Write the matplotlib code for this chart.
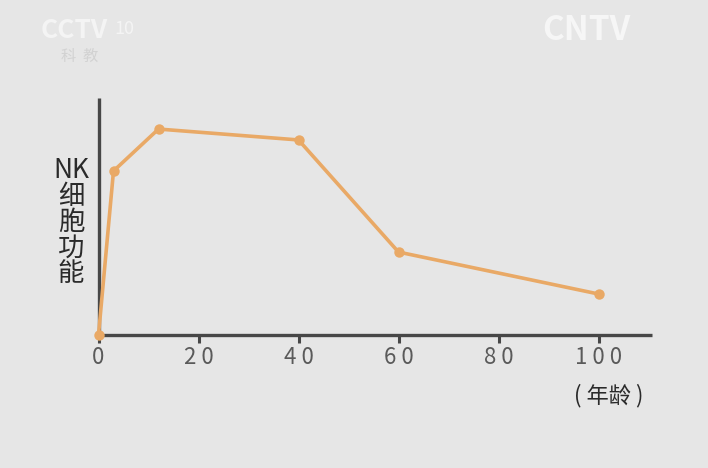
import matplotlib.pyplot as plt

plt.rcParams['font.family'] = ['Noto Sans CJK SC', 'DejaVu Sans']

# data (y is relative NK function, 0-100)
ages = [0, 3, 12, 40, 60, 100]
nk_function = [0, 69.2, 86.9, 82.3, 35.0, 17.3]
x_ticks = [0, 20, 40, 60, 80, 100]
x_tick_labels = ['0', '2 0', '4 0', '6 0', '8 0', '1 0 0']
y_label = 'NK\n细\n胞\n功\n能'
x_label = '( 年龄 )'

BG = '#e6e6e6'
AXIS = '#474747'
LINE = '#e9a966'

fig = plt.figure(figsize=(7.08, 4.68), dpi=100, facecolor=BG)
ax = fig.add_axes([98.5 / 708, (468 - 335) / 468, (652 - 98.5) / 708, (335 - 98) / 468])
ax.set_facecolor(BG)

ax.plot(ages, nk_function, color=LINE, lw=2.6, marker='o', ms=7.5,
        markeredgewidth=0, clip_on=False, zorder=3)

ax.set_xlim(0, 110.7)
ax.set_ylim(0, 100)

for side in ['top', 'right']:
    ax.spines[side].set_visible(False)
for side in ['left', 'bottom']:
    ax.spines[side].set_color(AXIS)
    ax.spines[side].set_linewidth(2.4)
    ax.spines[side].set_capstyle('butt')

ax.set_yticks([])
ax.set_xticks(x_ticks)
ax.set_xticklabels(x_tick_labels, fontsize=16, color='#5a5a5a')
ax.tick_params(axis='x', length=6, width=2.2, color=AXIS, pad=2)

fig.text(71 / 708, 1 - 222 / 468, y_label, fontsize=19, color='#2a2a2a',
         ha='center', va='center', linespacing=0.95)
fig.text(609 / 708, 1 - 396 / 468, x_label, fontsize=16, color='#2a2a2a',
         ha='center', va='center')

# faint channel watermarks
fig.text(74 / 708, 1 - 30 / 468, 'CCTV', fontsize=19, fontweight='bold',
         color='#f4f4f4', ha='center', va='center')
fig.text(124 / 708, 1 - 29 / 468, '10', fontsize=13, color='#f4f4f4',
         ha='center', va='center')
fig.text(80 / 708, 1 - 56 / 468, '科  教', fontsize=11, color='#d2d2d2',
         ha='center', va='center')
fig.text(586 / 708, 1 - 30 / 468, 'CNTV', fontsize=24, fontweight='bold',
         color='#f6f6f6', ha='center', va='center')

fig.savefig('out.png', dpi=100, facecolor=BG)
